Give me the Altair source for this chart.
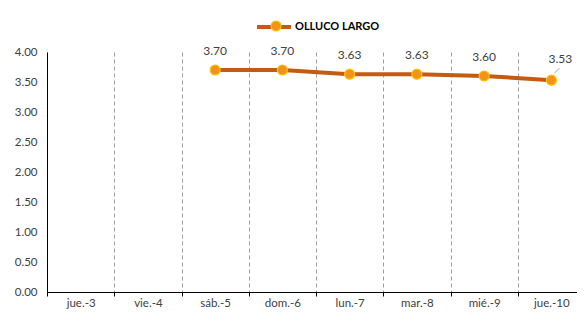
import altair as alt
import pandas as pd

days = ["jue.-3", "vie.-4", "sáb.-5", "dom.-6", "lun.-7", "mar.-8", "mié.-9", "jue.-10"]
prices = [None, None, 3.70, 3.70, 3.63, 3.63, 3.60, 3.53]
series_name = "OLLUCO LARGO"
y_ticks = [0, 0.5, 1.0, 1.5, 2.0, 2.5, 3.0, 3.5, 4.0]

df = pd.DataFrame({"day": days, "price": prices})
df["serie"] = series_name
df["serie2"] = series_name

FONT = "Lato"
LINE_COLOR = "#C55A11"
POINT_FILL = "#F39219"
POINT_STROKE = "#FFC000"
TEXT_COLOR = "#404040"

x_enc = alt.X(
    "day:N",
    sort=days,
    scale=alt.Scale(domain=days, paddingInner=0, paddingOuter=0),
    axis=alt.Axis(
        title=None,
        labelAngle=0,
        labelFont=FONT,
        labelFontSize=11.5,
        labelColor=TEXT_COLOR,
        labelPadding=1,
        domainColor="#000000",
        domainWidth=1,
        tickColor="#000000",
        tickSize=4,
        tickBand="extent",
        grid=True,
        gridDash=[4, 3],
        gridColor="#9E9E9E",
        gridWidth=1,
    ),
)
y_enc = alt.Y(
    "price:Q",
    scale=alt.Scale(domain=[0, 4], nice=False, zero=True),
    axis=alt.Axis(
        title=None,
        values=y_ticks,
        format=".2f",
        grid=False,
        ticks=False,
        labelOverlap=False,
        labelFont=FONT,
        labelFontSize=11.5,
        labelColor=TEXT_COLOR,
        labelPadding=10,
        domainColor="#000000",
        domainWidth=1,
    ),
)

base = alt.Chart(df).transform_filter("datum.price != null")

line = base.mark_line(strokeWidth=4).encode(
    x=x_enc,
    y=y_enc,
    stroke=alt.Stroke(
        "serie:N",
        scale=alt.Scale(range=[LINE_COLOR]),
        legend=alt.Legend(
            title=None,
            orient="none",
            legendX=208,
            legendY=-44,
            symbolType="stroke",
            symbolSize=1156,
            symbolStrokeWidth=4,
            labelFont=FONT,
            labelFontSize=11,
            labelFontWeight="bold",
            labelColor="#000000",
            labelOffset=2,
        ),
    ),
)

points = base.mark_point(filled=True, size=100, strokeWidth=1.2, stroke=POINT_STROKE, opacity=1).encode(
    x=x_enc,
    y=y_enc,
    fill=alt.Fill(
        "serie2:N",
        scale=alt.Scale(range=[POINT_FILL]),
        legend=alt.Legend(
            title=None,
            orient="none",
            legendX=223,
            legendY=-32,
            symbolType="circle",
            symbolSize=100,
            symbolStrokeColor=POINT_STROKE,
            symbolStrokeWidth=1.2,
            labelExpr="''",
        ),
    ),
)

labels = base.transform_filter(alt.datum.day != "jue.-10").mark_text(
    dy=-19, font=FONT, fontSize=12, color=TEXT_COLOR
).encode(
    x=x_enc,
    y=y_enc,
    text=alt.Text("price:Q", format=".2f"),
)

last_label = base.transform_filter(alt.datum.day == "jue.-10").mark_text(
    dx=9, dy=-21, font=FONT, fontSize=12, color=TEXT_COLOR
).encode(
    x=x_enc,
    y=y_enc,
    text=alt.Text("price:Q", format=".2f"),
)

leader = base.transform_filter(alt.datum.day == "jue.-10").mark_rule(
    color="#A6A6A6", strokeWidth=1, xOffset=3, yOffset=-7, x2Offset=8, y2Offset=-12
).encode(
    x=x_enc,
    x2=alt.X2("day"),
    y=y_enc,
    y2=alt.Y2("price"),
)

chart = (
    alt.layer(line, leader, points, labels, last_label)
    .resolve_legend(stroke="independent", fill="independent")
    .properties(
        width=538,
        height=240,
        autosize=alt.AutoSizeParams(type="none"),
        padding={"left": 39, "top": 44, "right": -8, "bottom": 17},
        background="#FFFFFF",
    )
    .configure_view(stroke=None)
)

chart.save("out.html", embed_options={"renderer": "svg", "actions": False})
